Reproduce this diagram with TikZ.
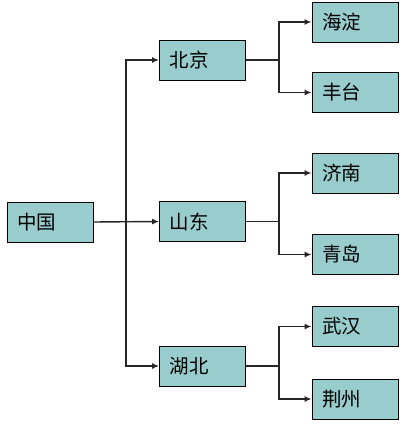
\documentclass[tikz,border=0pt]{standalone}
\usepackage{fontspec}
\newfontfamily\cjk{Noto Sans CJK SC}
\usetikzlibrary{arrows.meta}
\definecolor{boxfill}{RGB}{153,204,204}

\begin{document}
\begin{tikzpicture}[x=1pt,y=-1pt,>={Latex[length=7pt,width=6pt]},
  city/.style={draw=black,fill=boxfill,line width=0.8pt,minimum height=40pt,text width=66pt,inner xsep=10pt,align=left,font=\cjk\fontsize{19.5}{19.5}\selectfont},
  link/.style={line width=1.4pt,color=black!85}]
\useasboundingbox (0,0) rectangle (407,430);
\node(ZG) [city] at (50,222) {中国};
\node(BJ) [city] at (202.5,60) {北京};
\node(SD) [city] at (202.5,221.5) {山东};
\node(HB) [city] at (202.5,366) {湖北};
\node(HD) [city] at (355,22) {海淀};
\node(FT) [city] at (355,92.5) {丰台};
\node(JN) [city] at (355,173) {济南};
\node(QD) [city] at (355,254.5) {青岛};
\node(WH) [city] at (355,326.5) {武汉};
\node(JZ) [city] at (355,399) {荆州};
\coordinate(T) at (126,222);
\coordinate(BJB) at (279,60);
\coordinate(SDB) at (279,221.5);
\coordinate(HBB) at (279,366);
\draw[link,->] (ZG.east) -- (SD.west);
\draw[link,->] (T) |- (BJ.west);
\draw[link,->] (T) |- (HB.west);
\draw[link] (BJ.east) -- (BJB);
\draw[link,->] (BJB) |- (HD.west);
\draw[link,->] (BJB) |- (FT.west);
\draw[link] (SD.east) -- (SDB);
\draw[link,->] (SDB) |- (JN.west);
\draw[link,->] (SDB) |- (QD.west);
\draw[link] (HB.east) -- (HBB);
\draw[link,->] (HBB) |- (WH.west);
\draw[link,->] (HBB) |- (JZ.west);
\end{tikzpicture}
\end{document}
